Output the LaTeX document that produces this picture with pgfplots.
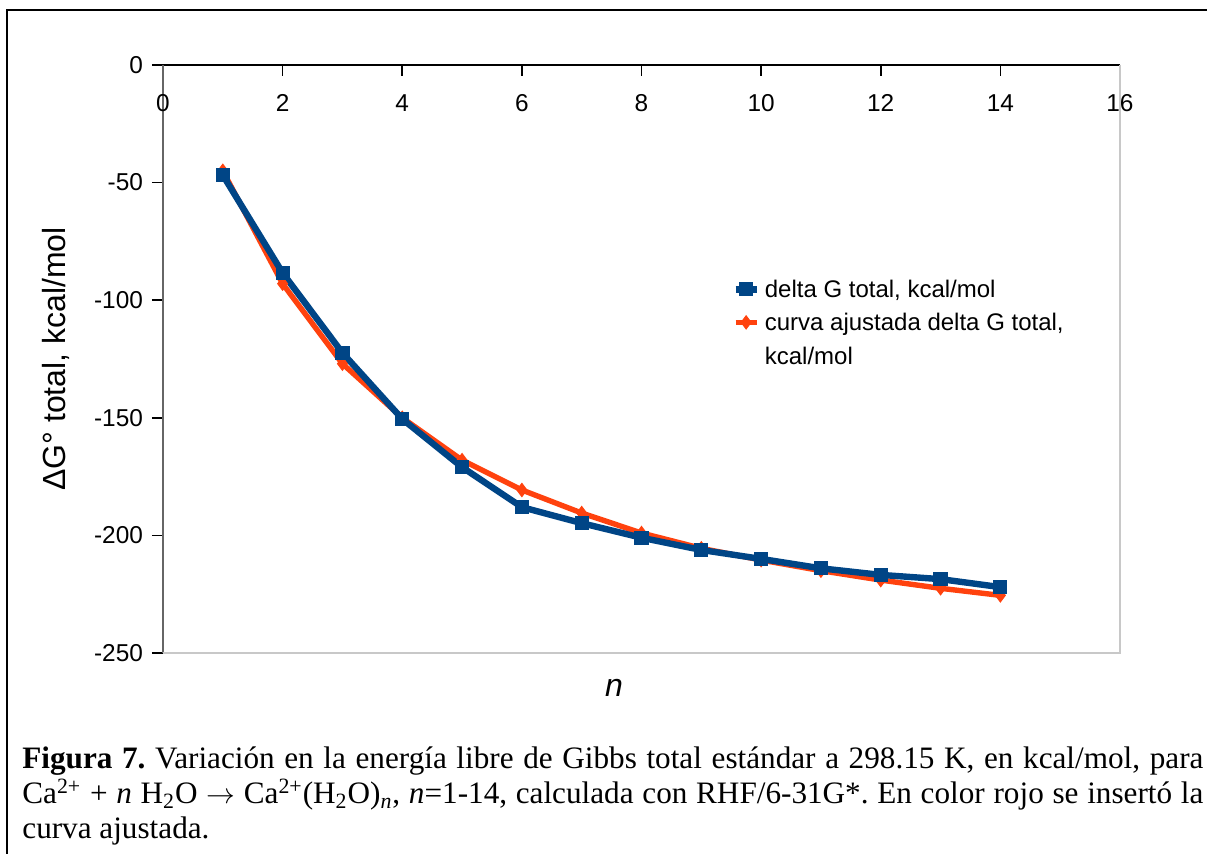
\documentclass[border=0pt]{standalone}
\usepackage{pgfplots}
\pgfplotsset{compat=1.18}
\usepackage{fontspec}
\setmainfont{Liberation Sans}
\newfontfamily\capfont{Liberation Serif}
\definecolor{lblue}{HTML}{004586}
\definecolor{lorange}{HTML}{FF420E}
\definecolor{lgray}{HTML}{C8C8C8}

\pgfplotstableread{
n G
1 -46.8
2 -88.4
3 -122.4
4 -150.5
5 -171.0
6 -188.0
7 -194.8
8 -201.0
9 -206.2
10 -210.0
11 -214.0
12 -216.8
13 -218.6
14 -222.0
}\tblG

\pgfplotstableread{
n G
1 -45.0
2 -93.0
3 -127.0
4 -150.0
5 -168.0
6 -180.7
7 -190.5
8 -199.0
9 -205.5
10 -210.5
11 -215.0
12 -219.0
13 -222.5
14 -225.5
}\tblFit

\begin{document}
\frenchspacing
\begin{tikzpicture}
\begin{axis}[
  at={(0pt,0pt)}, anchor=south west,
  scale only axis, width=478.5pt, height=294pt,
  xmin=0, xmax=16, ymin=-250, ymax=0,
  axis x line=top, axis y line=left,
  axis line style={-, line width=0.8pt},
  y axis line style={black!60},
  xtick={0,2,...,16}, ytick={-250,-200,...,0},
  tick align=inside,
  major tick length=5.5pt,
  tick style={line width=0.8pt, black},
  y tick style={xshift=-5.5pt},
  /pgf/number format/assume math mode=true,
  ticklabel style={font=\fontsize{12.2}{14}\selectfont},
  xticklabel style={anchor=center, yshift=-19pt},
  yticklabel style={xshift=-6.5pt},
  every axis y label/.style={at={(axis description cs:-0.1118,0.5)}, rotate=90, anchor=center, font=\fontsize{16}{18}\selectfont},
  ylabel={ΔG° total, kcal/mol},
  every axis x label/.style={at={(axis description cs:0.4713,0)}, anchor=base, yshift=-22pt, font=\fontsize{16}{18}\selectfont\itshape},
  xlabel={n},
  clip=false,
  reverse legend,
  legend style={at={(axis description cs:0.5946,0.6361)}, anchor=north west, draw=none, fill=none, inner sep=0pt,
    font=\fontsize{12}{17}\selectfont, row sep=0pt, column sep=1.5pt,
    cells={anchor=base west},
    nodes={inner xsep=1pt, inner ysep=0pt, text height=9pt, text depth=7.5pt}},
  legend image code/.code={\draw[mark repeat=2, mark phase=2, #1, yshift=4pt] plot coordinates {(0pt,0pt) (5.25pt,0pt) (10.5pt,0pt)};},
]
\addplot[color=lorange, line width=2.7pt, mark=diamond*, mark size=3.3pt, mark options={line width=0.5pt}] table[x=n,y=G] {\tblFit};
\addlegendentry{\begin{tabular}[t]{@{}l@{}}curva ajustada delta G total,\\kcal/mol\end{tabular}}
\addplot[color=lblue, line width=3.2pt, mark=square*, mark size=3.3pt, mark options={line width=0.5pt}] table[x=n,y=G] {\tblG};
\addlegendentry{delta G total, kcal/mol}
\end{axis}
\draw[lgray, line width=0.8pt] (0pt,0pt) -- (478.5pt,0pt) -- (478.5pt,294pt);
\draw[black, line width=0.8pt] (522pt,321.5pt) -- (-78pt,321.5pt) -- (-78pt,-100.5pt);
\begin{scope}[every node/.style={anchor=base west, inner sep=0pt, font=\capfont\fontsize{15.6}{17}\selectfont}]
\node at (-70.5pt,-58pt) {\makebox[590.5pt][s]{\textbf{Figura 7.} Variación en la energía libre de Gibbs total estándar a 298.15 K, en kcal/mol, para}};
\node at (-70.5pt,-75.5pt) {\makebox[590.5pt][s]{Ca\textsuperscript{2+} + \textit{n} H\textsubscript{2}O $\rightarrow$ Ca\textsuperscript{2+}(H\textsubscript{2}O)\textsubscript{\textit{n}}, \textit{n}=1-14, calculada con RHF/6-31G*. En color rojo se insertó la}};
\node at (-70.5pt,-93pt) {curva ajustada.};
\end{scope}
\pgfresetboundingbox
\path[use as bounding box] (-81.5pt,-100.5pt) rectangle (522pt,326.5pt);
\end{tikzpicture}
\end{document}
